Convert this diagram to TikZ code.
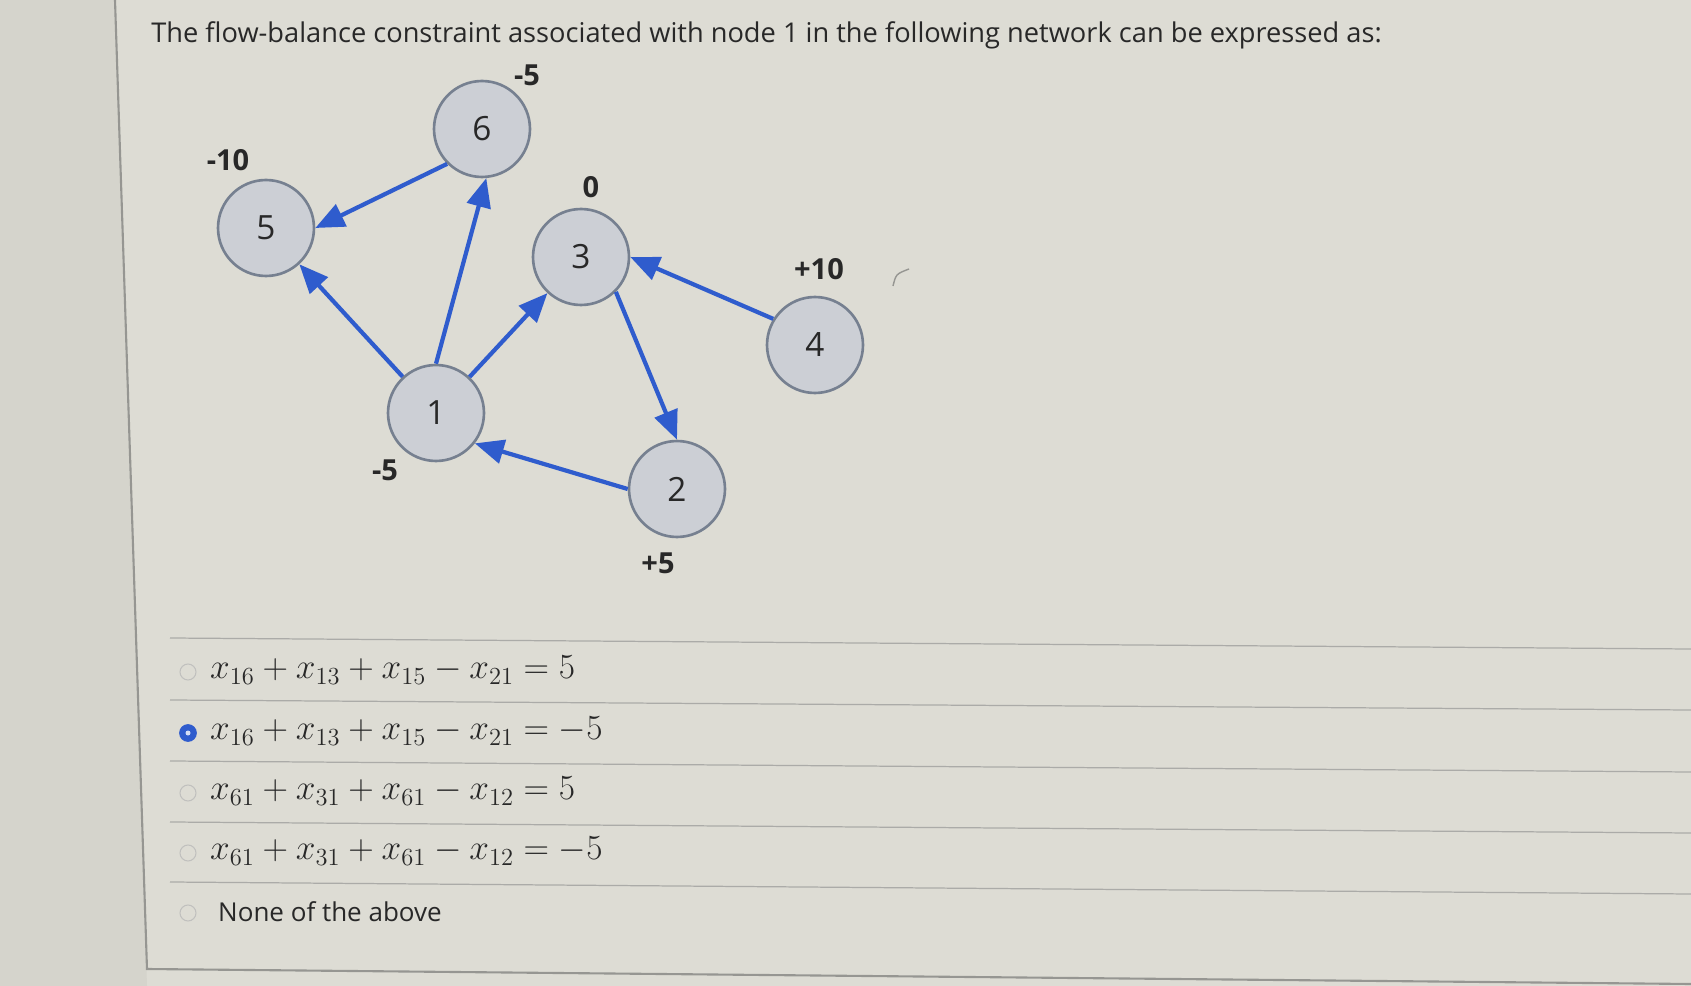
\documentclass[tikz,border=0pt]{standalone}
\usepackage{amsmath}
\usepackage{graphicx}
\usepackage{fontspec}
\setmainfont{Open Sans}
\usepackage{xcolor}
\usetikzlibrary{arrows.meta}
\definecolor{screen}{RGB}{221,220,212}
\definecolor{screenleft}{RGB}{213,212,204}
\definecolor{rule}{RGB}{150,150,146}
\definecolor{nodefill}{RGB}{204,207,213}
\definecolor{nodeedge}{RGB}{118,128,144}
\definecolor{flowblue}{RGB}{47,92,205}
\definecolor{inktext}{RGB}{40,40,40}
\newcommand{\choicemath}[1]{\scalebox{0.97}{$#1$}}

\begin{document}
\begin{tikzpicture}[x=0.02cm,y=-0.02cm,
    vertex/.style={circle,draw=nodeedge,fill=nodefill,line width=1.5pt,minimum size=1.92cm,inner sep=0pt,font=\fontsize{19}{21}\selectfont,text=inktext},
    flow/.style={draw=flowblue,line width=2.4pt,-{Triangle[length=0.58cm,width=0.48cm]}},
    supply/.style={font=\bfseries\fontsize{16.5}{18}\selectfont,text=inktext},
    option/.style={anchor=west,text=inktext,font=\fontsize{20.74}{22}\selectfont},
    radio/.style={circle,draw=rule!60,line width=0.6pt,minimum size=0.32cm,inner sep=0pt}]
    \useasboundingbox (0,0) rectangle (1691,986);
    \fill[screen] (0,0) rectangle (1691,986);
    \fill[screenleft] (0,0) -- (115,0) -- (147,986) -- (0,986) -- cycle;
    \draw[rule,line width=1.2pt] (115,0) -- (147,969) -- (1691,984);
    \node[anchor=base west,inner sep=0pt,text=inktext,font=\fontsize{15.5}{18}\selectfont] (title) at (151,43)
        {The flow-balance constraint associated with node 1 in the following network can be expressed as:};

    % network
    \node[vertex] (n6) at (482,129) {6};
    \node[vertex] (n5) at (266,228) {5};
    \node[vertex] (n3) at (581,257) {3};
    \node[vertex] (n4) at (815,345) {4};
    \node[vertex] (n1) at (436,413) {1};
    \node[vertex] (n2) at (677,489) {2};
    \draw[flow] (n6.225) -- (n5.east);
    \draw[flow] (n1.north) -- (n6.-85);
    \draw[flow] (n1) -- (n5);
    \draw[flow] (n1) -- (n3);
    \draw[flow] (n4.148) -- (n3.east);
    \draw[flow] (n3.-45) -- (n2.north);
    \draw[flow] (n2.west) -- (n1.-38);
    \node[supply] (s6) at (527,75) {-5};
    \node[supply] (s5) at (228,160) {-10};
    \node[supply] (s3) at (591,187) {0};
    \node[supply] (s4) at (819,269) {+10};
    \node[supply] (s1) at (385,470) {-5};
    \node[supply] (s2) at (658,563) {+5};
    \draw[rule,line width=0.8pt] (893,286) .. controls (896,274) .. (909,269);

    % answer options
    \foreach \y/\z in {638/649,700/710,761/772,822/833,882/894}
        \draw[rule!80,line width=0.7pt] (170,\y) -- (1691,\z);
    \node[radio] (r1) at (188,672) {};
    \node[radio,draw=flowblue,fill=flowblue,line width=1pt] (r2) at (188,733) {};
    \fill[white!80!flowblue] (r2.center) circle (0.05cm);
    \node[radio] (r3) at (188,793) {};
    \node[radio] (r4) at (188,853) {};
    \node[radio] (r5) at (188,913) {};
    \node[option] (o1) at (204,670) {\choicemath{x_{16}+x_{13}+x_{15}-x_{21}=5}};
    \node[option] (o2) at (204,731) {\choicemath{x_{16}+x_{13}+x_{15}-x_{21}=-5}};
    \node[option] (o3) at (204,791) {\choicemath{x_{61}+x_{31}+x_{61}-x_{12}=5}};
    \node[option] (o4) at (204,851) {\choicemath{x_{61}+x_{31}+x_{61}-x_{12}=-5}};
    \node[option,font=\fontsize{14.8}{16}\selectfont] (o5) at (212,912) {None of the above};
\end{tikzpicture}
\end{document}
